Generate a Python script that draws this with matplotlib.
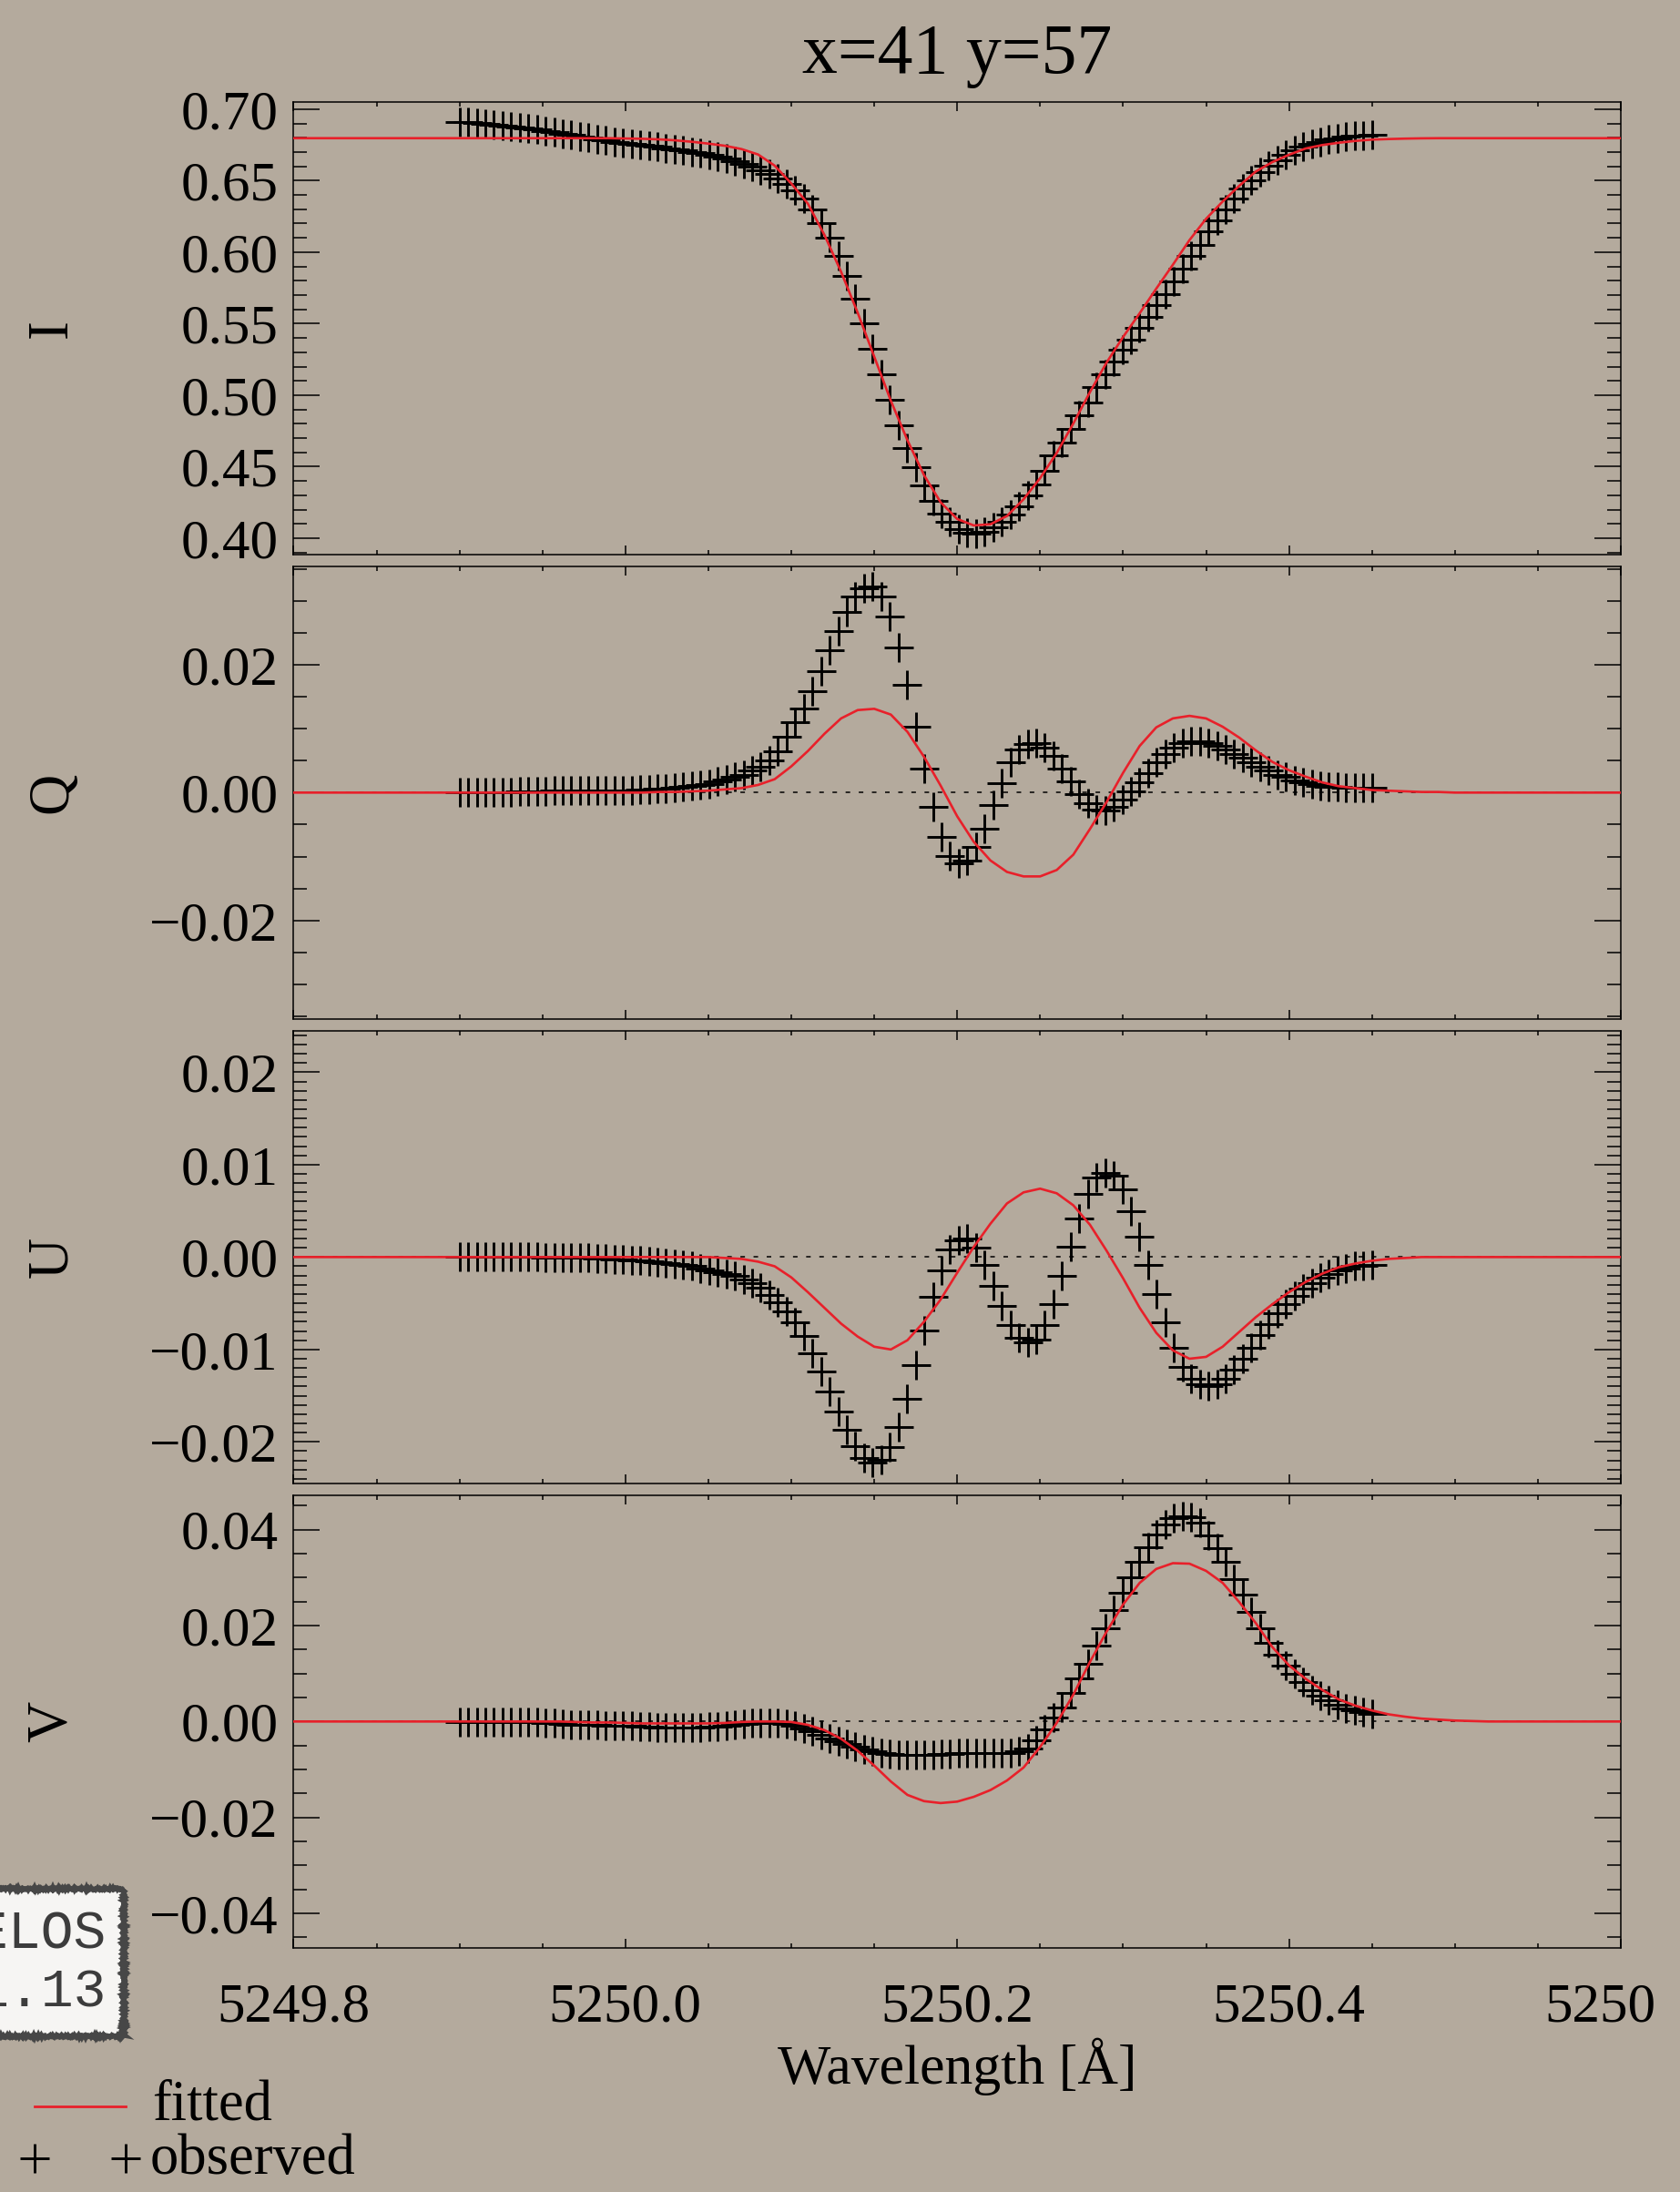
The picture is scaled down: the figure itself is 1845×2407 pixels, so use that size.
import numpy as np
import matplotlib
matplotlib.use("Agg")
import matplotlib.pyplot as plt
from matplotlib.ticker import MultipleLocator, FuncFormatter
from matplotlib.lines import Line2D
from matplotlib.patches import Rectangle
from matplotlib.transforms import Bbox, TransformedBbox

# ---------------- data ----------------
wl_obs = np.linspace(5249.90, 5250.45, 107)
wl_fit = np.linspace(5249.80, 5250.60, 81)

I_obs = [0.6912, 0.6908, 0.6904, 0.6899, 0.6893, 0.6887, 0.6880, 0.6873, 0.6866, 0.6857,
         0.6848, 0.6839, 0.6829, 0.6820, 0.6810, 0.6800, 0.6791, 0.6782, 0.6773, 0.6765,
         0.6757, 0.6750, 0.6743, 0.6736, 0.6728, 0.6720, 0.6712, 0.6703, 0.6693, 0.6682,
         0.6668, 0.6654, 0.6638, 0.6620, 0.6600, 0.6575, 0.6548, 0.6515, 0.6478, 0.6430,
         0.6373, 0.6298, 0.6203, 0.6101, 0.5974, 0.5832, 0.5672, 0.5503, 0.5322, 0.5146,
         0.4966, 0.4791, 0.4632, 0.4494, 0.4367, 0.4261, 0.4174, 0.4112, 0.4063, 0.4038,
         0.4034, 0.4046, 0.4076, 0.4112, 0.4165, 0.4225, 0.4297, 0.4378, 0.4473, 0.4577,
         0.4666, 0.4764, 0.4861, 0.4946, 0.5055, 0.5144, 0.5235, 0.5316, 0.5390, 0.5471,
         0.5545, 0.5628, 0.5706, 0.5795, 0.5882, 0.5974, 0.6052, 0.6144, 0.6224, 0.6299,
         0.6377, 0.6447, 0.6504, 0.6560, 0.6604, 0.6645, 0.6681, 0.6710, 0.6736, 0.6757,
         0.6772, 0.6787, 0.6797, 0.6806, 0.6812, 0.6816, 0.6819]

Q_obs = [0.0000, 0.0000, 0.0001, 0.0001, 0.0001, 0.0001, 0.0001, 0.0002, 0.0002, 0.0002,
         0.0002, 0.0003, 0.0003, 0.0003, 0.0003, 0.0004, 0.0004, 0.0004, 0.0004, 0.0004,
         0.0004, 0.0005, 0.0005, 0.0006, 0.0006, 0.0007, 0.0009, 0.0010, 0.0012, 0.0014,
         0.0017, 0.0020, 0.0024, 0.0028, 0.0034, 0.0041, 0.0050, 0.0065, 0.0088, 0.0110,
         0.0132, 0.0158, 0.0190, 0.0222, 0.0253, 0.0283, 0.0307, 0.0320, 0.0322, 0.0307,
         0.0275, 0.0227, 0.0169, 0.0103, 0.0037, -0.0022, -0.0069, -0.0099, -0.0110, -0.0106,
         -0.0085, -0.0056, -0.0020, 0.0015, 0.0047, 0.0067, 0.0076, 0.0078, 0.0070, 0.0057,
         0.0038, 0.0017, -0.0002, -0.0016, -0.0027, -0.0028, -0.0022, -0.0011, 0.0002, 0.0016,
         0.0031, 0.0048, 0.0061, 0.0070, 0.0077, 0.0080, 0.0080, 0.0077, 0.0073, 0.0067,
         0.0061, 0.0054, 0.0047, 0.0040, 0.0034, 0.0028, 0.0024, 0.0019, 0.0016, 0.0013,
         0.0011, 0.0009, 0.0009, 0.0008, 0.0008, 0.0007, 0.0007]

U_obs = [0.0000, 0.0000, 0.0000, 0.0000, 0.0000, 0.0000, 0.0000, 0.0000, 0.0000, 0.0000,
         -0.0001, -0.0001, -0.0001, -0.0001, -0.0001, -0.0001, -0.0002, -0.0002, -0.0003, -0.0003,
         -0.0004, -0.0004, -0.0005, -0.0006, -0.0007, -0.0008, -0.0009, -0.0010, -0.0012, -0.0014,
         -0.0016, -0.0018, -0.0020, -0.0024, -0.0028, -0.0033, -0.0041, -0.0049, -0.0059, -0.0071,
         -0.0085, -0.0104, -0.0124, -0.0145, -0.0167, -0.0187, -0.0205, -0.0217, -0.0222, -0.0219,
         -0.0206, -0.0184, -0.0153, -0.0117, -0.0079, -0.0043, -0.0014, 0.0008, 0.0018, 0.0020,
         0.0010, -0.0009, -0.0031, -0.0053, -0.0074, -0.0087, -0.0092, -0.0089, -0.0074, -0.0051,
         -0.0020, 0.0011, 0.0042, 0.0068, 0.0086, 0.0091, 0.0088, 0.0073, 0.0050, 0.0022,
         -0.0009, -0.0040, -0.0071, -0.0098, -0.0119, -0.0132, -0.0138, -0.0140, -0.0138, -0.0132,
         -0.0122, -0.0110, -0.0098, -0.0084, -0.0073, -0.0061, -0.0051, -0.0042, -0.0034, -0.0028,
         -0.0022, -0.0018, -0.0014, -0.0012, -0.0010, -0.0010, -0.0009]

V_obs = [-0.0002, -0.0002, -0.0002, -0.0002, -0.0002, -0.0002, -0.0002, -0.0002, -0.0002, -0.0002,
         -0.0003, -0.0004, -0.0005, -0.0006, -0.0006, -0.0007, -0.0007, -0.0008, -0.0008, -0.0008,
         -0.0009, -0.0010, -0.0011, -0.0012, -0.0012, -0.0013, -0.0013, -0.0013, -0.0012, -0.0011,
         -0.0010, -0.0008, -0.0007, -0.0005, -0.0004, -0.0003, -0.0003, -0.0003, -0.0005, -0.0009,
         -0.0014, -0.0021, -0.0028, -0.0035, -0.0041, -0.0047, -0.0053, -0.0058, -0.0062, -0.0065,
         -0.0067, -0.0069, -0.0070, -0.0070, -0.0070, -0.0069, -0.0068, -0.0067, -0.0066, -0.0066,
         -0.0066, -0.0066, -0.0066, -0.0066, -0.0065, -0.0062, -0.0056, -0.0040, -0.0017, 0.0008,
         0.0029, 0.0060, 0.0090, 0.0121, 0.0159, 0.0194, 0.0233, 0.0268, 0.0301, 0.0333,
         0.0364, 0.0390, 0.0411, 0.0424, 0.0428, 0.0426, 0.0415, 0.0388, 0.0361, 0.0333,
         0.0297, 0.0264, 0.0229, 0.0195, 0.0163, 0.0140, 0.0116, 0.0099, 0.0082, 0.0066,
         0.0054, 0.0044, 0.0035, 0.0028, 0.0023, 0.0020, 0.0016]

I_fit = [0.6797] * 20 + [
    0.6795, 0.6793, 0.6789, 0.6782, 0.6772, 0.6759, 0.6744, 0.6721, 0.6683, 0.6605,
    0.6480, 0.6339, 0.6120, 0.5863, 0.5577, 0.5269, 0.4961, 0.4685, 0.4441, 0.4251,
    0.4134, 0.4089, 0.4097, 0.4155, 0.4272, 0.4420, 0.4596, 0.4802, 0.5021, 0.5227,
    0.5407, 0.5573, 0.5745, 0.5912, 0.6084, 0.6233, 0.6354, 0.6464, 0.6564, 0.6630,
    0.6681, 0.6725, 0.6749, 0.6765, 0.6778, 0.6787, 0.6791, 0.6794, 0.6796] + [0.6797] * 12

Q_fit = [0.0] * 20 + [
    0.0000, 0.0000, 0.0001, 0.0001, 0.0002, 0.0003, 0.0005, 0.0007, 0.0012, 0.0021,
    0.0041, 0.0065, 0.0092, 0.0116, 0.0129, 0.0131, 0.0122, 0.0095, 0.0056, 0.0011,
    -0.0037, -0.0077, -0.0106, -0.0124, -0.0131, -0.0131, -0.0121, -0.0097, -0.0057, -0.0015,
    0.0031, 0.0073, 0.0102, 0.0116, 0.0120, 0.0116, 0.0103, 0.0086, 0.0066, 0.0048,
    0.0035, 0.0025, 0.0016, 0.0010, 0.0007, 0.0004, 0.0003, 0.0002, 0.0001, 0.0001] + [0.0] * 11

U_fit = [0.0] * 20 + [
    0.0000, 0.0000, 0.0000, 0.0000, 0.0000, 0.0000, -0.0001, -0.0002, -0.0005, -0.0010,
    -0.0022, -0.0038, -0.0055, -0.0072, -0.0086, -0.0097, -0.0100, -0.0090, -0.0070, -0.0046,
    -0.0017, 0.0011, 0.0036, 0.0058, 0.0070, 0.0074, 0.0069, 0.0056, 0.0035, 0.0007,
    -0.0023, -0.0055, -0.0082, -0.0101, -0.0110, -0.0108, -0.0097, -0.0081, -0.0065, -0.0051,
    -0.0038, -0.0027, -0.0018, -0.0011, -0.0007, -0.0004, -0.0002, -0.0001] + [0.0] * 13

V_fit = [0.0] * 17 + [
    -0.0001, -0.0002, -0.0002,
    -0.0003, -0.0004, -0.0004, -0.0004, -0.0004, -0.0004, -0.0003, -0.0001, 0.0000, 0.0000,
    -0.0001, -0.0007, -0.0018, -0.0036, -0.0061, -0.0092, -0.0125, -0.0153, -0.0166, -0.0170,
    -0.0167, -0.0157, -0.0143, -0.0123, -0.0096, -0.0053, -0.0003, 0.0056, 0.0124, 0.0187,
    0.0244, 0.0289, 0.0318, 0.0330, 0.0329, 0.0314, 0.0289, 0.0249, 0.0205, 0.0155,
    0.0117, 0.0089, 0.0066, 0.0046, 0.0033, 0.0023, 0.0015, 0.0010, 0.0006, 0.0004,
    0.0002, 0.0001] + [0.0] * 9

panel_names = ["I", "Q", "U", "V"]
obs_series = [I_obs, Q_obs, U_obs, V_obs]
fit_series = [I_fit, Q_fit, U_fit, V_fit]
ylims = [(0.3885, 0.7052), (-0.0354, 0.0354), (-0.0245, 0.0245), (-0.0472, 0.0472)]
ymajor = [0.05, 0.02, 0.01, 0.02]
yminor = [0.01, 0.005, 0.001, 0.005]

title_text = "x=41 y=57"
xlabel_text = "Wavelength [Å]"
legend_labels = ["fitted", "observed"]
box_lines = ["VELOS", "1.13"]

# ---------------- style ----------------
W, H, DPI = 1845, 2407, 100
BG = "#b4aa9d"
RED = "#e8202a"
plt.rcParams["font.family"] = ["Liberation Serif", "DejaVu Serif"]
plt.rcParams["lines.scale_dashes"] = False
plt.rcParams["axes.linewidth"] = 1.1

fig = plt.figure(figsize=(W / DPI, H / DPI), dpi=DPI)
fig.patch.set_facecolor(BG)


def fx(x):
    return x / W


def fy(y):
    return 1 - y / H


left, right = 322.4, 1780.0
tops = [111.7, 621.7, 1131.7, 1641.7]
ph = 497.3


def yfmt(v, pos):
    s = f"{v:.2f}"
    if s == "-0.00":
        s = "0.00"
    return s.replace("-", "\u2212")


axes = []
for k in range(4):
    t = tops[k]
    ax = fig.add_axes([fx(left), fy(t + ph), (right - left) / W, ph / H])
    ax.set_facecolor("none")
    ax.set_xlim(5249.8, 5250.6)
    ax.set_ylim(*ylims[k])
    ax.xaxis.set_major_locator(MultipleLocator(0.2))
    ax.xaxis.set_minor_locator(MultipleLocator(0.05))
    ax.yaxis.set_major_locator(MultipleLocator(ymajor[k]))
    ax.yaxis.set_minor_locator(MultipleLocator(yminor[k]))
    ax.yaxis.set_major_formatter(FuncFormatter(yfmt))
    ax.xaxis.set_major_formatter(FuncFormatter(lambda v, p: f"{v:.1f}"))
    ax.tick_params(axis="y", which="major", direction="in", length=21, width=1.1,
                   left=True, right=True, labelsize=44, pad=12, colors="black")
    ax.tick_params(axis="y", which="minor", direction="in", length=10.5, width=1.1,
                   left=True, right=True)
    ax.tick_params(axis="x", which="major", direction="in", length=7.2, width=1.1,
                   top=True, bottom=True, labelsize=44, pad=27)
    ax.tick_params(axis="x", which="minor", direction="in", length=3.6, width=1.1,
                   top=True, bottom=True)
    if k < 3:
        ax.tick_params(axis="x", labelbottom=False)
    if k > 0:
        ax.axhline(0.0, color="black", lw=1.1, dashes=(3.6, 6.8), zorder=1)
    ax.plot(wl_obs, obs_series[k], ls="none", marker="+", ms=23, mew=2.1,
            color="black", zorder=2)
    ax.plot(wl_fit, fit_series[k], color=RED, lw=1.9, zorder=3)
    fig.text(fx(58), fy(t + ph / 2), panel_names[k], rotation=90, ha="center",
             va="center", fontsize=45)
    axes.append(ax)

fig.text(fx(1051), fy(80), title_text, ha="center", va="baseline", fontsize=56)
fig.text(fx(1051), fy(2288), xlabel_text, ha="center", va="baseline", fontsize=44.5)

# the right-most x tick label is cut off in the reference
fig.canvas.draw()
clip = TransformedBbox(Bbox.from_extents(0, 0, fx(1816), 1), fig.transFigure)
for tk in axes[3].xaxis.get_major_ticks():
    tk.label1.set_clip_box(clip)
    tk.label1.set_clip_on(True)

# legend (bottom-left)
fig.add_artist(Line2D([fx(38), fx(138)], [fy(2313), fy(2313)], color=RED, lw=2.0,
                      transform=fig.transFigure))
fig.text(fx(167), fy(2328), legend_labels[0], ha="left", va="baseline", fontsize=45)
fig.add_artist(Line2D([fx(38), fx(138)], [fy(2370), fy(2370)], ls="none", marker="+",
                      ms=23, mew=2.1, color="black", transform=fig.transFigure))
fig.text(fx(165), fy(2387), legend_labels[1], ha="left", va="baseline", fontsize=45)

# annotation box at the left edge
box = Rectangle((fx(-80), fy(2236)), fx(216), (2236 - 2074) / H, transform=fig.transFigure,
                facecolor="#f6f5f3", edgecolor="#474747", linewidth=4.0, zorder=5)
box.set_sketch_params(scale=1.2, length=3, randomness=2)
fig.add_artist(box)
fig.text(fx(117), fy(2139), box_lines[0], ha="right", va="baseline", fontsize=43,
         family="Liberation Mono", color="#3c3c3c", zorder=6)
fig.text(fx(117), fy(2203), box_lines[1], ha="right", va="baseline", fontsize=43,
         family="Liberation Mono", color="#3c3c3c", zorder=6)

fig.savefig("out.png", dpi=DPI, facecolor=fig.get_facecolor())
